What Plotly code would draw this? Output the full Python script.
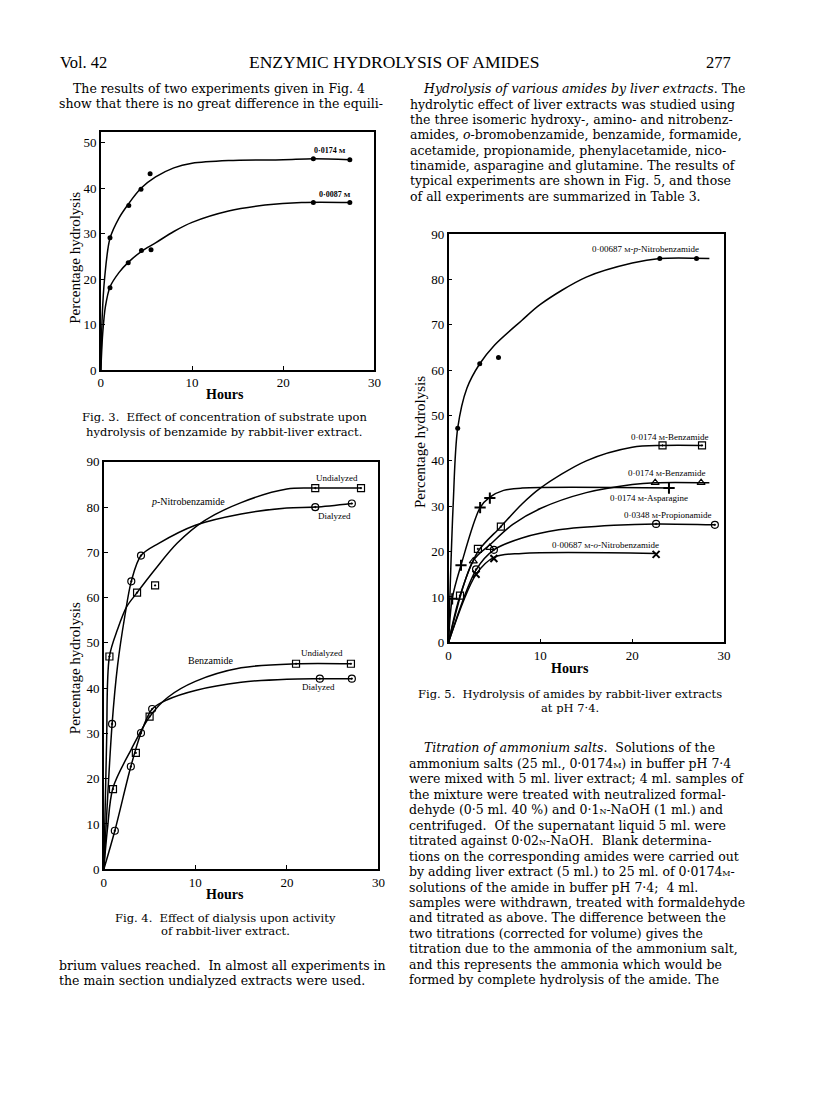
import plotly.graph_objects as go

# page offset: the browser body adds an 8px margin, so the figure is shifted
OFF = 8
PAGE_W, PAGE_H = 816, 1113
W, H = PAGE_W - OFF, PAGE_H - OFF

# ---------------- Fig. 3 data ----------------
f3_hi_x = [1.0, 3.06, 4.4, 5.4, 23.3, 27.3]
f3_hi_y = [29.1, 36.2, 39.8, 43.2, 46.5, 46.3]
f3_hi_curve_x = [0, 0.15, 0.4, 1, 2, 3, 4.4, 6, 8, 10, 14, 20, 23.3, 27.3]
f3_hi_curve_y = [0, 12, 20, 29, 33.5, 36.5, 40, 42.5, 44.5, 45.5, 46.1, 46.3, 46.5, 46.3]

f3_lo_x = [1.0, 3.0, 4.45, 5.5, 23.3, 27.3]
f3_lo_y = [18.1, 23.6, 26.3, 26.5, 36.9, 36.9]
f3_lo_curve_x = [0, 0.2, 0.5, 1, 2, 3, 4.5, 6, 8, 10, 14, 18, 22, 27.3]
f3_lo_curve_y = [0, 8, 14, 18.3, 21.5, 23.7, 26.2, 28, 30.5, 32.5, 35, 36.3, 36.9, 36.9]

# ---------------- Fig. 4 data ----------------
f4_pn_und_x = [0.61, 3.63, 5.6, 23.1, 28.1]
f4_pn_und_y = [47.0, 61.1, 62.7, 84.2, 84.2]
f4_pn_und_cx = [0, 0.3, 0.61, 1.5, 2.5, 3.63, 5.5, 8, 11, 15, 20, 23.1, 28.1]
f4_pn_und_cy = [0, 28, 47, 53, 58, 61.1, 66, 72, 77, 81, 84, 84.2, 84.2]

f4_pn_dia_x = [0.9, 3.0, 4.06, 23.1, 27.1]
f4_pn_dia_y = [32.1, 63.6, 69.3, 80.0, 80.8]
f4_pn_dia_cx = [0, 0.9, 1.5, 2.3, 3.0, 4.06, 6, 10, 15, 20, 23.1, 27.1]
f4_pn_dia_cy = [0, 32, 45, 56, 63.6, 69.3, 72, 76, 78.5, 79.8, 80.0, 80.8]

f4_bz_und_x = [1.0, 3.5, 5.0, 21.0, 27.0]
f4_bz_und_y = [17.7, 25.7, 33.7, 45.4, 45.4]
f4_bz_und_cx = [0, 0.4, 1.0, 3.0, 5.0, 7, 10, 15, 21, 27]
f4_bz_und_cy = [0, 9, 18, 26.5, 33.7, 38, 41.5, 44.5, 45.4, 45.4]

f4_bz_dia_x = [1.2, 2.95, 4.06, 5.28, 23.6, 27.1]
f4_bz_dia_y = [8.5, 22.7, 30.1, 35.4, 42.1, 42.1]
f4_bz_dia_cx = [0, 1.2, 2.95, 4.06, 5.28, 7, 10, 15, 20, 23.6, 27.1]
f4_bz_dia_cy = [0, 8.5, 22.7, 30.1, 35.4, 37.5, 39.5, 41.3, 42.0, 42.1, 42.1]

# ---------------- Fig. 5 data ----------------
f5_pn_x = [1.0, 3.4, 5.44, 23.0, 27.0]
f5_pn_y = [47.2, 61.4, 62.8, 84.6, 84.6]
f5_pn_cx = [0, 0.5, 1.0, 2.0, 3.4, 5, 8, 10, 15, 20, 23, 28.4]
f5_pn_cy = [0, 30, 47.2, 56, 61.4, 65.5, 71, 74.5, 80.5, 83.6, 84.6, 84.6]

f5_bzA_x = [1.25, 3.2, 5.7, 23.3, 27.6]
f5_bzA_y = [10.3, 20.6, 25.5, 43.4, 43.4]
f5_bzA_cx = [0, 1.25, 3.2, 5.7, 8, 10, 15, 20, 23.3, 27.6]
f5_bzA_cy = [0, 10.3, 20.0, 25.5, 30.5, 34, 40, 43, 43.4, 43.4]

f5_bzB_x = [2.7, 4.5, 22.5, 27.5]
f5_bzB_y = [17.9, 20.9, 35.2, 35.2]
f5_bzB_cx = [0, 2.7, 4.5, 7, 10, 15, 20, 22.5, 28.4]
f5_bzB_cy = [0, 18, 21.5, 26, 29.5, 33, 34.8, 35.2, 35.2]

f5_asp_x = [0.4, 1.36, 3.44, 4.5, 24.0]
f5_asp_y = [9.6, 17.0, 29.7, 31.8, 34.0]
f5_asp_cx = [0, 0.4, 1.36, 3.44, 4.5, 6, 8, 24.6]
f5_asp_cy = [0, 9.6, 17.0, 29.7, 32, 33.5, 34, 34]

f5_pro_x = [3.0, 4.94, 22.6, 29.0]
f5_pro_y = [16.1, 20.4, 26.1, 25.9]
f5_pro_cx = [0, 3.0, 4.94, 8, 12, 18, 22.6, 29.0]
f5_pro_cy = [0, 16, 20.4, 23, 24.8, 25.8, 26.1, 25.9]

f5_on_x = [3.0, 4.94, 22.6]
f5_on_y = [15.0, 18.5, 19.4]
f5_on_cx = [0, 3.0, 5.0, 8, 22.6]
f5_on_cy = [0, 15, 18.8, 19.6, 19.6]

x_ticks = [0, 10, 20, 30]

SERIF = "Liberation Serif"
BODY = "DejaVu Serif"

fig = go.Figure()


def curve(x, y, ax):
    fig.add_trace(go.Scatter(x=x, y=y, mode="lines",
                             line=dict(color="black", width=1.5, shape="spline", smoothing=0.9),
                             xaxis="x" + ax, yaxis="y" + ax, showlegend=False, hoverinfo="skip"))


def pts(x, y, ax, symbol, size, lw=1.2):
    fig.add_trace(go.Scatter(x=x, y=y, mode="markers",
                             marker=dict(symbol=symbol, size=size, color="black",
                                         line=dict(color="black", width=lw)),
                             xaxis="x" + ax, yaxis="y" + ax, showlegend=False))


# Fig 3
curve(f3_hi_curve_x, f3_hi_curve_y, "")
curve(f3_lo_curve_x, f3_lo_curve_y, "")
pts(f3_hi_x, f3_hi_y, "", "circle", 5, 0)
pts(f3_lo_x, f3_lo_y, "", "circle", 5, 0)

# Fig 4
curve(f4_pn_und_cx, f4_pn_und_cy, "2")
curve(f4_pn_dia_cx, f4_pn_dia_cy, "2")
curve(f4_bz_und_cx, f4_bz_und_cy, "2")
curve(f4_bz_dia_cx, f4_bz_dia_cy, "2")
pts(f4_pn_und_x, f4_pn_und_y, "2", "square-open-dot", 7)
pts(f4_pn_dia_x, f4_pn_dia_y, "2", "circle-open-dot", 7)
pts(f4_bz_und_x, f4_bz_und_y, "2", "square-open-dot", 7)
pts(f4_bz_dia_x, f4_bz_dia_y, "2", "circle-open-dot", 7)

# Fig 5
curve(f5_pn_cx, f5_pn_cy, "3")
curve(f5_bzA_cx, f5_bzA_cy, "3")
curve(f5_bzB_cx, f5_bzB_cy, "3")
curve(f5_asp_cx, f5_asp_cy, "3")
curve(f5_pro_cx, f5_pro_cy, "3")
curve(f5_on_cx, f5_on_cy, "3")
pts(f5_pn_x, f5_pn_y, "3", "circle", 5, 0)
pts(f5_bzA_x, f5_bzA_y, "3", "square-open-dot", 7)
pts(f5_bzB_x, f5_bzB_y, "3", "triangle-up-open", 7)
pts(f5_asp_x, f5_asp_y, "3", "cross-thin", 8, 2)
pts(f5_pro_x, f5_pro_y, "3", "circle-open-dot", 7)
pts(f5_on_x, f5_on_y, "3", "x-thin", 7, 2)


def px_x(a, b):
    return [(a - OFF) / W, (b - OFF) / W]


def px_y(top, bottom):
    return [1 - (bottom - OFF) / H, 1 - (top - OFF) / H]


axis_common = dict(showline=True, mirror=True, linecolor="black", linewidth=1.5, ticks="inside", ticklen=4,
                   tickwidth=1.2, tickcolor="black", showgrid=False, zeroline=False,
                   tickfont=dict(family=SERIF, size=13, color="black"), fixedrange=True)

fig.update_layout(
    width=W, height=H, margin=dict(l=0, r=0, t=0, b=0), paper_bgcolor="white", plot_bgcolor="white",
    xaxis=dict(domain=px_x(99, 376), range=[0, 30], tickvals=x_ticks, anchor="y", **axis_common),
    yaxis=dict(domain=px_y(127, 368), range=[0, 52.3], tickvals=[0, 10, 20, 30, 40, 50], anchor="x", **axis_common),
    xaxis2=dict(domain=px_x(102, 380), range=[0, 30], tickvals=x_ticks, anchor="y2", **axis_common),
    yaxis2=dict(domain=px_y(461, 874), range=[0, 90], tickvals=list(range(0, 91, 10)), anchor="x2", **axis_common),
    xaxis3=dict(domain=px_x(451, 730), range=[0, 30], tickvals=x_ticks, anchor="y3", **axis_common),
    yaxis3=dict(domain=px_y(230, 644), range=[0, 90], tickvals=list(range(0, 91, 10)), anchor="x3", **axis_common),
)

ann = []


def ptext(text, x, y, size, family=BODY, xanchor="left", angle=0):
    ann.append(dict(text=text, x=(x - OFF) / W, y=1 - (y - OFF) / H, xref="paper", yref="paper",
                    xanchor=xanchor, yanchor="middle", showarrow=False, textangle=angle,
                    font=dict(family=family, size=size, color="black")))


def dtext(text, x, y, ax, size):
    ann.append(dict(text=text, x=x, y=y, xref="x" + ax, yref="y" + ax, xanchor="center", yanchor="middle",
                    showarrow=False, font=dict(family=SERIF, size=size, color="black")))


M = "<span style='font-size:7px'>M</span>"
Mb = "<span style='font-size:8px'>M</span>"
N = "<span style='font-size:8px'>N</span>"

BODY_SIZE = 12.5
CAP_SIZE = 11.5

# header
ptext("Vol. 42", 56, 56, 16.5, SERIF)
ptext("ENZYMIC HYDROLYSIS OF AMIDES", 396, 56, 17.5, SERIF, xanchor="center")
ptext("277", 739, 56, 16.5, SERIF, xanchor="right")

# left column text
ptext("The results of two experiments given in Fig. 4", 69, 82.5, BODY_SIZE)
ptext("show that there is no great difference in the equili-", 55, 98, BODY_SIZE)
ptext("brium values reached.  In almost all experiments in", 55, 972, BODY_SIZE)
ptext("the main section undialyzed extracts were used.", 55, 987, BODY_SIZE)

# right column upper text
right_upper = [
    "<i>Hydrolysis of various amides by liver extracts</i>. The",
    "hydrolytic effect of liver extracts was studied using",
    "the three isomeric hydroxy-, amino- and nitrobenz-",
    "amides, <i>o</i>-bromobenzamide, benzamide, formamide,",
    "acetamide, propionamide, phenylacetamide, nico-",
    "tinamide, asparagine and glutamine. The results of",
    "typical experiments are shown in Fig. 5, and those",
    "of all experiments are summarized in Table 3.",
]
for i, t in enumerate(right_upper):
    ptext(t, 423 if i == 0 else 410, 83 + 15.5 * i, BODY_SIZE)

right_lower = [
    "<i>Titration of ammonium salts</i>.  Solutions of the",
    "ammonium salts (25 ml., 0·0174" + Mb + ") in buffer pH 7·4",
    "were mixed with 5 ml. liver extract; 4 ml. samples of",
    "the mixture were treated with neutralized formal-",
    "dehyde (0·5 ml. 40 %) and 0·1" + N + "-NaOH (1 ml.) and",
    "centrifuged.  Of the supernatant liquid 5 ml. were",
    "titrated against 0·02" + N + "-NaOH.  Blank determina-",
    "tions on the corresponding amides were carried out",
    "by adding liver extract (5 ml.) to 25 ml. of 0·0174" + Mb + "-",
    "solutions of the amide in buffer pH 7·4;  4 ml.",
    "samples were withdrawn, treated with formaldehyde",
    "and titrated as above. The difference between the",
    "two titrations (corrected for volume) gives the",
    "titration due to the ammonia of the ammonium salt,",
    "and this represents the ammonia which would be",
    "formed by complete hydrolysis of the amide. The",
]
for i, t in enumerate(right_lower):
    ptext(t, 424 if i == 0 else 409, 751 + 15.67 * i, BODY_SIZE)

# captions
ptext("Fig. 3.  Effect of concentration of substrate upon", 224, 416, CAP_SIZE, xanchor="center")
ptext("hydrolysis of benzamide by rabbit-liver extract.", 224, 431, CAP_SIZE, xanchor="center")
ptext("Fig. 4.  Effect of dialysis upon activity", 225, 923, CAP_SIZE, xanchor="center")
ptext("of rabbit-liver extract.", 225, 937, CAP_SIZE, xanchor="center")
ptext("Fig. 5.  Hydrolysis of amides by rabbit-liver extracts", 574, 696, CAP_SIZE, xanchor="center")
ptext("at pH 7·4.", 574, 711, CAP_SIZE, xanchor="center")

# axis titles
ptext("<b>Hours</b>", 225, 393, 14, SERIF, xanchor="center")
ptext("<b>Hours</b>", 225, 900, 14, SERIF, xanchor="center")
ptext("<b>Hours</b>", 574, 670, 14, SERIF, xanchor="center")
ptext("Percentage hydrolysis", 72, 254, 15, SERIF, xanchor="center", angle=-90)
ptext("Percentage hydrolysis", 73, 670, 15, SERIF, xanchor="center", angle=-90)
ptext("Percentage hydrolysis", 422, 441, 15, SERIF, xanchor="center", angle=-90)

# chart labels
dtext("<b>0·0174 " + M + "</b>", 25.1, 48.4, "", 8)
dtext("<b>0·0087 " + M + "</b>", 25.7, 38.6, "", 8)

dtext("<i>p</i>-Nitrobenzamide", 9.16, 81.3, "2", 10)
dtext("Undialyzed", 25.44, 86.4, "2", 9)
dtext("Dialyzed", 25.2, 78.1, "2", 9)
dtext("Benzamide", 11.75, 46.2, "2", 10)
dtext("Undialyzed", 23.8, 47.7, "2", 9)
dtext("Dialyzed", 23.5, 40.2, "2", 9)

dtext("0·00687 " + M + "-<i>p</i>-Nitrobenzamide", 21.5, 86.7, "3", 9)
dtext("0·0174 " + M + "-Benzamide", 24.1, 45.2, "3", 9)
dtext("0·0174 " + M + "-Benzamide", 23.7, 37.3, "3", 9)
dtext("0·0174 " + M + "-Asparagine", 21.8, 31.8, "3", 9)
dtext("0·0348 " + M + "-Propionamide", 23.8, 28.1, "3", 9)
dtext("0·00687 " + M + "-<i>o</i>-Nitrobenzamide", 17.1, 21.5, "3", 9)

fig.update_layout(annotations=ann)
fig.write_html("out.html")
